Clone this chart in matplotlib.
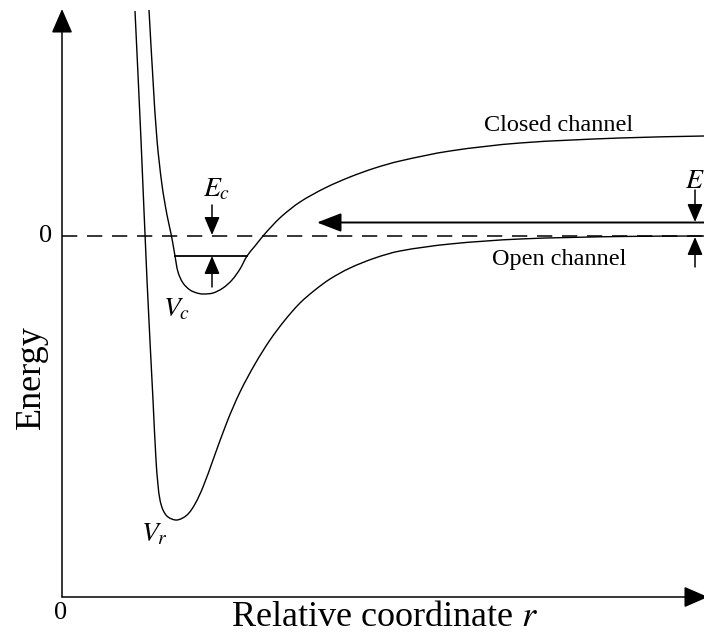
import matplotlib
matplotlib.use("Agg")
import matplotlib.pyplot as plt
import numpy as np
from matplotlib.path import Path
from matplotlib.patches import PathPatch

plt.rcParams['font.family'] = ['Liberation Serif', 'DejaVu Serif']
plt.rcParams['mathtext.fontset'] = 'stix'
plt.rcParams['lines.scale_dashes'] = False

# Closed channel potential V_c (r, energy)
closed_r = [87, 91, 95, 100, 105, 109.5, 113, 116, 121, 128, 135, 141, 151, 161, 170,
            178, 185, 193, 201, 210, 220, 238, 263, 288, 313, 338, 388, 458, 558, 642]
closed_E = [226, 156, 96, 51, 21, 0, -20, -36, -47, -54, -57, -58, -57, -52, -44,
            -33, -20, -10, 0, 10, 20, 34, 48, 59, 68, 75, 85, 93, 98, 100]

# Open channel potential V_r
open_r = [73, 79, 85, 91, 94, 96, 98, 101, 106, 115, 125, 133, 141, 151, 165, 178,
          193, 208, 223, 238, 253, 268, 288, 313, 338, 388, 458, 558, 642]
open_E = [225, 96, -44, -164, -224, -249, -264, -274, -281, -284, -279, -268, -251,
          -224, -186, -156, -128, -104, -84, -67, -54, -43, -32, -22, -15, -8, -3,
          -0.5, 0]

# Bound state of closed channel
bound_E = -20
bound_r = [113, 185]

# Incoming energy level
incoming_E = 13.5


def smooth_path(xs, ys):
    pts = np.column_stack([xs, ys]).astype(float)
    n = len(pts)
    d = np.hypot(*np.diff(pts, axis=0).T)
    verts = [pts[0]]
    codes = [Path.MOVETO]
    for i in range(n - 1):
        p1, p2 = pts[i], pts[i + 1]
        d12 = d[i]
        if i > 0:
            t1 = (p2 - pts[i - 1]) / (d[i - 1] + d12)
        else:
            t1 = (p2 - p1) / d12
        if i + 2 < n:
            t2 = (pts[i + 2] - p1) / (d12 + d[i + 1])
        else:
            t2 = (p2 - p1) / d12
        c1 = p1 + t1 * d12 / 3
        c2 = p2 - t2 * d12 / 3
        verts += [c1, c2, p2]
        codes += [Path.CURVE4] * 3
    return Path(verts, codes)


fig = plt.figure(figsize=(7.04, 6.35), dpi=100)
ax = fig.add_axes([0, 0, 1, 1])
ax.set_xlim(-62, 642)
ax.set_ylim(-399, 236)
ax.axis('off')

ax.add_patch(PathPatch(smooth_path(closed_r, closed_E), fill=False, lw=1.0,
                       edgecolor='black', joinstyle='round'))
ax.add_patch(PathPatch(smooth_path(open_r, open_E), fill=False, lw=1.0,
                       edgecolor='black', joinstyle='round'))
ax.plot(bound_r, [bound_E, bound_E], color='black', lw=1.3)

# dashed zero line
ax.plot([0, 650], [0, 0], color='black', lw=1.1, dashes=(11, 7))


def arrow(x0, y0, x1, y1, hl, hw, lw):
    ax.annotate('', xy=(x1, y1), xytext=(x0, y0), annotation_clip=False,
                arrowprops=dict(arrowstyle=f'-|>,head_length={hl},head_width={hw}',
                                lw=lw, color='black', shrinkA=0, shrinkB=0,
                                mutation_scale=1))


# axes
arrow(0, -361, 0, 227, 15, 6.5, 1.1)
arrow(0, -361, 646, -361, 15, 6.5, 1.1)

# E_c arrows
arrow(150, 31, 150, 1, 11, 4.7, 1.1)
arrow(150, -51, 150, -20, 11, 4.7, 1.1)

# incoming arrow
arrow(660, incoming_E, 255, incoming_E, 15, 5.8, 1.4)

# E arrows at right
arrow(633, 46, 633, 14, 11, 4.7, 1.1)
arrow(633, -31, 633, -1, 11, 4.7, 1.1)

# texts
ax.text(155, 46, r'$E_c$', fontsize=20, ha='center', va='center')
ax.text(623, 55, r'$E$', fontsize=20, ha='left', va='center')
ax.text(115, -74, r'$V_c$', fontsize=20, ha='center', va='center')
ax.text(92, -299, r'$V_r$', fontsize=20, ha='center', va='center')
ax.text(497, 105, 'Closed channel', fontsize=17.5, ha='center', va='baseline')
ax.text(497, -29, 'Open channel', fontsize=17.5, ha='center', va='baseline')
ax.text(-16, 0, '0', fontsize=19, ha='center', va='center')
ax.text(-1, -377, '0', fontsize=19, ha='center', va='center')
ax.text(-31, -141, 'Energy', fontsize=26, rotation=90, ha='center', va='center')
ax.text(323, -398, 'Relative coordinate $r$', fontsize=26, ha='center', va='bottom')

fig.savefig('out.png', dpi=100)
